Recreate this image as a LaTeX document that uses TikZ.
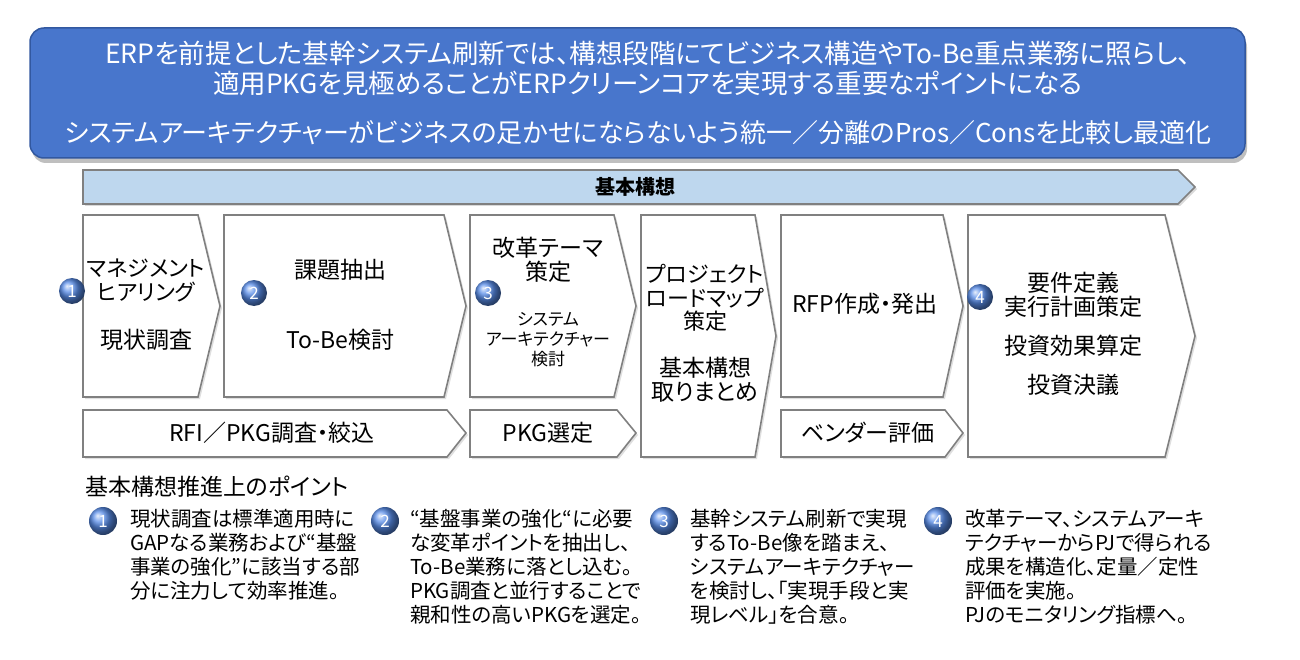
\documentclass[tikz,border=0pt]{standalone}
\usepackage{fontspec}
\setmainfont{Noto Sans CJK JP}[RawFeature=+palt]
\usetikzlibrary{shadows}
\definecolor{bannerblue}{RGB}{72,118,204}
\definecolor{bannerline}{RGB}{50,88,160}
\definecolor{barblue}{RGB}{190,215,238}
\definecolor{chevgray}{RGB}{128,128,128}
\definecolor{ballblue}{RGB}{88,140,232}
\tikzset{
  banner/.style={draw=bannerline, line width=1.5pt, fill=bannerblue, rounded corners=14pt,
    drop shadow={opacity=0.5, shadow xshift=2pt, shadow yshift=-5pt}},
  bar/.style={draw=chevgray, line width=1.6pt, fill=barblue,
    drop shadow={opacity=0.3, shadow xshift=2pt, shadow yshift=-2pt}},
  chev/.style={draw=chevgray, line width=1.6pt, fill=white,
    drop shadow={opacity=0.25, shadow xshift=2pt, shadow yshift=-2pt}},
  numball/.style={circle, ball color=ballblue, text=white, minimum size=26pt, inner sep=0pt,
    font=\fontsize{17}{17}\selectfont},
  headtxt/.style={text=white, align=center, font=\fontsize{26.5}{30}\selectfont},
  boxtxt/.style={align=center, font=\fontsize{23}{24}\selectfont, inner sep=0pt},
  smalltxt/.style={align=center, font=\fontsize{17}{20}\selectfont, inner sep=0pt},
  pointtxt/.style={align=left, anchor=north west, inner sep=0pt, font=\fontsize{20.5}{24}\selectfont},
}
\begin{document}
\begin{tikzpicture}[x=1pt, y=-1pt]
\useasboundingbox (0,0) rectangle (1300,660);
% banner
\draw[banner] (30,28) rectangle (1245,158);
\node[headtxt] (lead) at (648,68) {ERPを前提とした基幹システム刷新では、構想段階にてビジネス構造やTo-Be重点業務に照らし、\\適用PKGを見極めることがERPクリーンコアを実現する重要なポイントになる};
\node[headtxt, font=\fontsize{26}{30}\selectfont] (arch) at (638,133) {システムアーキテクチャーがビジネスの足かせにならないよう統一／分離のPros／Consを比較し最適化};
% phase bar
\draw[bar] (83,170) -- (1178,170) -- (1195,187) -- (1178,204) -- (83,204) -- cycle;
\node[font=\fontsize{20}{20}\selectfont\bfseries] (phase) at (635,187) {基本構想};
% upper row
\draw[chev] (83,215) -- (198,215) -- (220,306) -- (198,397) -- (83,397) -- cycle;
\draw[chev] (224,215) -- (444,215) -- (466,306) -- (444,397) -- (224,397) -- cycle;
\draw[chev] (470,215) -- (614,215) -- (636,306) -- (614,397) -- (470,397) -- cycle;
\draw[chev] (641,215) -- (755,215) -- (776,336) -- (755,457) -- (641,457) -- cycle;
\draw[chev] (781,215) -- (943,215) -- (963,306) -- (943,397) -- (781,397) -- cycle;
\draw[chev] (968,215) -- (1165,215) -- (1195,336) -- (1165,457) -- (968,457) -- cycle;
% lower row
\draw[chev] (83,410) -- (447,410) -- (466,433) -- (447,457) -- (83,457) -- cycle;
\draw[chev] (470,410) -- (617,410) -- (636,433) -- (617,457) -- (470,457) -- cycle;
\draw[chev] (781,410) -- (945,410) -- (963,433) -- (945,457) -- (781,457) -- cycle;
% texts in boxes
\node[boxtxt, font=\fontsize{22}{24}\selectfont] (hear) at (146,280) {マネジメント\\ヒアリング};
\node[boxtxt] (asis) at (146,340) {現状調査};
\node[boxtxt] (issue) at (340,270) {課題抽出};
\node[boxtxt] (tobe) at (340,340) {To-Be検討};
\node[boxtxt] (theme) at (548,260) {改革テーマ\\策定};
\node[smalltxt] (sysarch) at (548,340) {システム\\アーキテクチャー\\検討};
\node[boxtxt, font=\fontsize{22}{23.5}\selectfont] (road) at (705,298) {プロジェクト\\ロードマップ\\策定};
\node[boxtxt] (summ) at (705,380) {基本構想\\取りまとめ};
\node[boxtxt] (rfp) at (865,304) {RFP作成・発出};
\node[boxtxt] (req) at (1073,295) {要件定義\\実行計画策定};
\node[boxtxt] (invest) at (1073,346) {投資効果算定};
\node[boxtxt] (decide) at (1073,385) {投資決議};
\node[boxtxt] (rfi) at (272,433) {RFI／PKG調査・絞込};
\node[boxtxt] (pkg) at (548,433) {PKG選定};
\node[boxtxt] (vendor) at (868,433) {ベンダー評価};
% number balls
\node[numball] (n1) at (72,291) {1};
\node[numball] (n2) at (254,293) {2};
\node[numball] (n3) at (488,293) {3};
\node[numball] (n4) at (980,297) {4};
% points
\node[anchor=west, inner sep=0pt, font=\fontsize{23}{23}\selectfont] (points) at (85,487) {基本構想推進上のポイント};
\node[numball, minimum size=28pt] (p1) at (103,521) {1};
\node[numball, minimum size=28pt] (p2) at (385,521) {2};
\node[numball, minimum size=28pt] (p3) at (664,521) {3};
\node[numball, minimum size=28pt] (p4) at (938,521) {4};
\node[pointtxt] (t1) at (130,509) {現状調査は標準適用時に\\GAPなる業務および“基盤\\事業の強化”に該当する部\\分に注力して効率推進。};
\node[pointtxt] (t2) at (410,509) {“基盤事業の強化“に必要\\な変革ポイントを抽出し、\\To-Be業務に落とし込む。\\PKG調査と並行することで\\親和性の高いPKGを選定。};
\node[pointtxt] (t3) at (690,509) {基幹システム刷新で実現\\するTo-Be像を踏まえ、\\システムアーキテクチャー\\を検討し、「実現手段と実\\現レベル」を合意。};
\node[pointtxt] (t4) at (965,509) {改革テーマ、システムアーキ\\テクチャーからPJで得られる\\成果を構造化、定量／定性\\評価を実施。\\PJのモニタリング指標へ。};
\end{tikzpicture}
\end{document}
